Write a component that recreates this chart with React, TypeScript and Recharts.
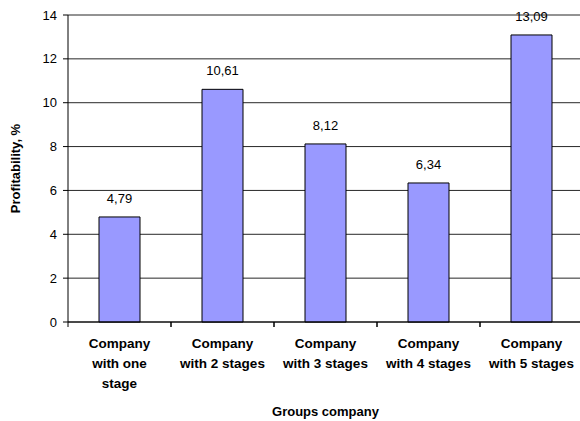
import React from 'react';
import { BarChart, Bar, XAxis, YAxis, CartesianGrid, LabelList } from 'recharts';

const categories = [
    'Company\nwith one\nstage',
    'Company\nwith 2 stages',
    'Company\nwith 3 stages',
    'Company\nwith 4 stages',
    'Company\nwith 5 stages',
];
const profitability = [4.79, 10.61, 8.12, 6.34, 13.09];
const yTicks = [0, 2, 4, 6, 8, 10, 12, 14];

const data = categories.map((name, i) => ({ name, value: profitability[i] }));

const FONT = 'Arial, "Liberation Sans", sans-serif';
const CHART_W = 590;
const CHART_H = 421;
const MARGIN = { top: 15, right: 7, bottom: 22, left: 8 };
const Y_AXIS_W = 60;
const PLOT_W = CHART_W - MARGIN.left - MARGIN.right - Y_AXIS_W;
const BAND = PLOT_W / categories.length;

// multi-line category label plus tick marks at the category boundaries
const CategoryTick: React.FC<any> = (props) => {
    const { x, y, payload } = props;
    const lines = String(payload.value).split('\n');
    return (
        <g>
            <line x1={x - BAND / 2} y1={y - 6} x2={x - BAND / 2} y2={y - 1} stroke="#000" />
            <line x1={x + BAND / 2} y1={y - 6} x2={x + BAND / 2} y2={y - 1} stroke="#000" />
            <text x={x} y={y} textAnchor="middle" fill="#000" fontSize={13.5} fontWeight="bold" fontFamily={FONT}>
                {lines.map((l, i) => (
                    <tspan key={i} x={x} y={y + 20 + i * 20}>
                        {l}
                    </tspan>
                ))}
            </text>
        </g>
    );
};

const fmt = (v: any) => Number(v).toFixed(2).replace('.', ',');

export default function App() {
    return (
        <div style={{ position: 'absolute', left: 0, top: 0, width: 580, height: 421, overflow: 'hidden', background: '#fff' }}>
            <BarChart width={CHART_W} height={CHART_H} data={data} margin={MARGIN}>
                <CartesianGrid horizontal vertical={false} stroke="#000" strokeOpacity={0.85} />
                <XAxis
                    dataKey="name"
                    interval={0}
                    height={77}
                    axisLine={{ stroke: '#000' }}
                    tickLine={false}
                    tick={<CategoryTick />}
                    tickMargin={0}
                    label={{ value: 'Groups company', position: 'insideBottom', offset: 0, fill: '#000', fontSize: 13, fontWeight: 'bold', fontFamily: FONT, dy: 17 }}
                />
                <YAxis
                    width={Y_AXIS_W}
                    domain={[0, 14]}
                    ticks={yTicks}
                    interval={0}
                    axisLine={{ stroke: '#000' }}
                    tickLine={{ stroke: '#000' }}
                    tickSize={5}
                    tickMargin={6}
                    tick={{ fill: '#000', fontSize: 13, fontFamily: FONT }}
                    label={{ value: 'Profitability, %', angle: -90, position: 'insideLeft', offset: 7, fill: '#000', fontSize: 13, fontWeight: 'bold', fontFamily: FONT, style: { textAnchor: 'middle' } }}
                />
                <Bar dataKey="value" fill="#9999FF" stroke="#000" strokeWidth={1} barSize={41} isAnimationActive={false}>
                    <LabelList dataKey="value" position="top" offset={14} formatter={fmt} fill="#000" fontSize={13} fontFamily={FONT} />
                </Bar>
            </BarChart>
        </div>
    );
}
